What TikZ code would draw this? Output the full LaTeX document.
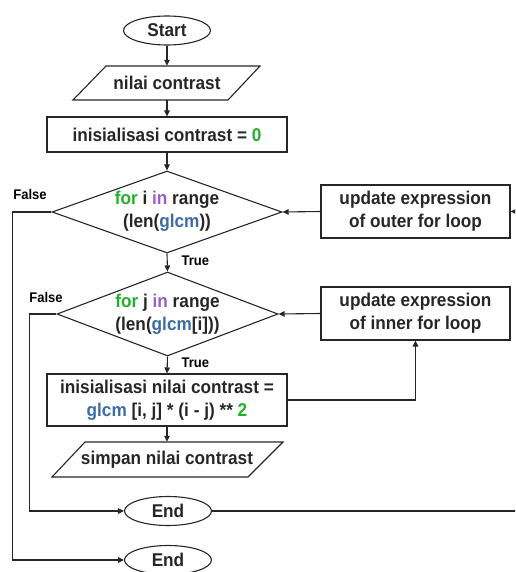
\documentclass[tikz,border=0pt]{standalone}
\usepackage{fontspec}
\setmainfont[FakeStretch=0.93]{Liberation Sans}
\usetikzlibrary{shapes.geometric,arrows.meta,calc}
\definecolor{ink}{HTML}{262626}
\definecolor{kwgreen}{HTML}{22B02A}
\definecolor{kwpurple}{HTML}{9A5CC4}
\definecolor{varblue}{HTML}{3C6DA4}
\newcommand{\kw}[1]{\textcolor{kwgreen}{#1}}
\newcommand{\op}[1]{\textcolor{kwpurple}{#1}}
\newcommand{\var}[1]{\textcolor{varblue}{#1}}
\tikzset{
  every node/.style={font=\bfseries\fontsize{18.5}{23}\selectfont, text=ink},
  line/.style={draw=ink, line width=1.1pt},
  flow/.style={line, -{Triangle[length=6pt,width=5.5pt]}},
  terminal/.style={ellipse, line, minimum width=87pt, minimum height=29pt, inner sep=0pt},
  process/.style={rectangle, line, inner sep=0pt, align=center},
  decision/.style={diamond, line, inner sep=0pt},
  iobox/.style={inner sep=0pt, minimum height=34pt},
  tag/.style={font=\bfseries\fontsize{14}{16}\selectfont, text=black},
}
\begin{document}
\begin{tikzpicture}[x=1pt, y=-1pt]
\path[use as bounding box] (0,0) rectangle (515,572);
\clip (0,0) rectangle (515,572);

% main column
\node[terminal] (start) at (167,30.5) {Start};

\node[iobox] (in1) at (167,83) {nilai contrast};
\draw[line] ($(in1)+(-61,-17)$) -- ($(in1)+(93,-17)$) -- ($(in1)+(61,17)$) -- ($(in1)+(-94,17)$) -- cycle;

\node[process, minimum width=240pt, minimum height=35pt] (init) at (167,134.5)
  {inisialisasi contrast = \kw{0}};

\node[decision, minimum width=230pt, minimum height=82pt] (loopi) at (167,212) {};
\node[align=center] (loopitext) at (167,211.5)
  {\kw{for} i \op{in} range\\(len(\var{glcm}))};

\node[decision, minimum width=221pt, minimum height=84pt] (loopj) at (167.5,314) {};
\node[align=center] (loopjtext) at (167.5,314.5)
  {\kw{for} j \op{in} range\\(len(\var{glcm}[i]))};

\node[process, minimum width=240pt, minimum height=52pt] (calc) at (167,400)
  {inisialisasi nilai contrast =\\\var{glcm} [i, j] * (i - j) ** \kw{2}};

\node[iobox, minimum height=35pt] (in2) at (167,459.5) {simpan nilai contrast};
\draw[line] ($(in2)+(-82,-17.5)$) -- ($(in2)+(116,-17.5)$) -- ($(in2)+(81,17.5)$) -- ($(in2)+(-115,17.5)$) -- cycle;

\node[terminal] (endin) at (168,511) {End};
\node[terminal] (endout) at (168,560) {End};

% loop update boxes
\node[process, minimum width=189pt, minimum height=53pt] (updo) at (415.5,211.5)
  {update expression\\of outer for loop};
\node[process, minimum width=189pt, minimum height=53pt] (updi) at (415.5,313.5)
  {update expression\\of inner for loop};

% branch labels
\node[tag, anchor=west] (true1) at (178,261) {True};
\node[tag, anchor=west] (true2) at (178,363) {True};
\node[tag] (false1) at (30,194) {False};
\node[tag] (false2) at (46,297) {False};

% connectors
\draw[flow] (start.south) -- (in1.north);
\draw[flow] (in1.south) -- (init.north);
\draw[flow] (init.south) -- (loopi.north);
\draw[flow] (loopi.south) -- (loopj.north);
\draw[flow] (loopj.south) -- (calc.north);
\draw[flow] (calc.south) -- (in2.north);
\draw[flow] (updo.west) -- (loopi.east);
\draw[flow] (updi.west) -- (loopj.east);
\draw[flow] (calc.east) -| (updi.south);
\draw[flow] (loopi.west) -- ++(-39,0) |- (endout.west);
\draw[flow] (loopj.west) -- ++(-27,0) |- (endin.west);
\coordinate (rim) at (519,511);
\draw[flow] (endin.east) -- (rim) |- (updo.east);
\end{tikzpicture}
\end{document}
